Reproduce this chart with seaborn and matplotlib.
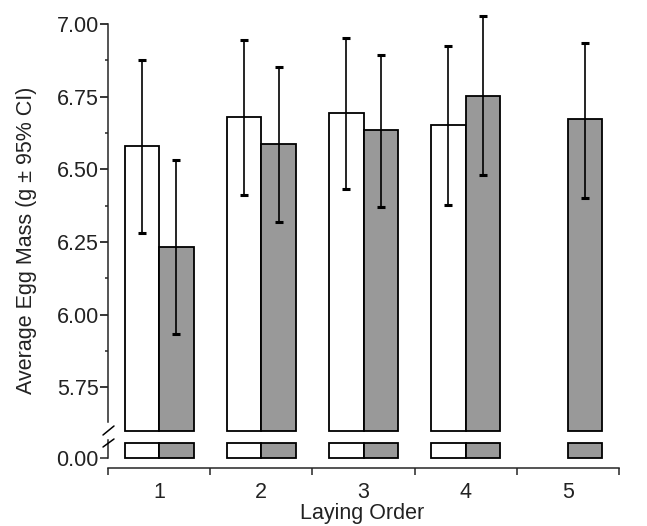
import numpy as np
import pandas as pd
import matplotlib
matplotlib.use("Agg")
import matplotlib.pyplot as plt
from matplotlib.lines import Line2D
import seaborn as sns

# data
orders = ["1", "2", "3", "4", "5"]
groups = ["A", "B"]
a_mean = [6.580, 6.681, 6.695, 6.654, np.nan]
a_low = [6.280, 6.413, 6.431, 6.379, np.nan]
a_high = [6.876, 6.945, 6.952, 6.924, np.nan]
b_mean = [6.232, 6.587, 6.634, 6.753, 6.672]
b_low = [5.934, 6.318, 6.370, 6.479, 6.403]
b_high = [6.531, 6.852, 6.893, 7.028, 6.934]

df = pd.DataFrame({
    "order": orders * 2,
    "group": ["A"] * 5 + ["B"] * 5,
    "mean": a_mean + b_mean,
    "low": a_low + b_low,
    "high": a_high + b_high,
}).dropna()

sns.set_theme(style="ticks")
plt.rcParams["font.family"] = ["Liberation Sans", "DejaVu Sans"]
plt.rcParams["font.size"] = 15.5

W, H = 647, 526
fig = plt.figure(figsize=(W / 100, H / 100), dpi=100)
ax_top = fig.add_axes([108 / W, 1 - 431 / H, (619 - 108) / W, (431 - 24) / H])
ax_bot = fig.add_axes([108 / W, 1 - 468 / H, (619 - 108) / W, (468 - 440) / H])

top_lo, top_hi = 5.6, 7.0
bot_lo, bot_hi, bot_cap = -1.0, 1.8, 1.5
pal = ["white", "#999999"]

for ax in (ax_top, ax_bot):
    sns.barplot(data=df, x="order", y="mean", hue="group", order=orders,
                hue_order=groups, palette=pal, width=0.675, errorbar=None,
                edgecolor="black", linewidth=1.3, saturation=1,
                legend=False, ax=ax)
    ax.set_xlim(-0.5, 4.5)
    ax.set_xlabel("")
    ax.set_ylabel("")
    ax.spines[["top", "right"]].set_visible(False)

# upper panel: bars start at the axis break
ax_top.set_ylim(top_lo, top_hi)
for p in ax_top.patches:
    h = p.get_height()
    p.set_y(top_lo)
    p.set_height(h - top_lo)
    p.set_clip_on(False)

# error bars from the CI values
for cont, g in zip(ax_top.containers, groups):
    sub = df[df["group"] == g].set_index("order")
    for bar in cont:
        xc = bar.get_x() + bar.get_width() / 2
        row = sub.loc[orders[int(round(xc))]]
        ax_top.errorbar(xc, row["mean"],
                        yerr=[[row["mean"] - row["low"]], [row["high"] - row["mean"]]],
                        fmt="none", ecolor="black", elinewidth=1.2,
                        capsize=2.8, capthick=2.2)
for art in ax_top.lines + ax_top.collections:
    art.set_clip_on(False)

ax_top.spines["bottom"].set_visible(False)
ax_top.spines["left"].set_bounds(5.63, 7.0)
ax_top.spines["left"].set_linewidth(1.1)
ax_top.set_xticks([])
ax_top.set_yticks([5.75, 6.0, 6.25, 6.5, 6.75, 7.0])
ax_top.set_yticklabels(["%.2f" % v for v in [5.75, 6.0, 6.25, 6.5, 6.75, 7.0]])
ax_top.set_yticks([5.875, 6.125, 6.375, 6.625, 6.875], minor=True)
ax_top.tick_params(axis="y", which="major", length=5.5, width=1.1, pad=1,
                   labelsize=15.5, color="black", labelcolor="#222222")
ax_top.tick_params(axis="y", which="minor", length=2.5, width=1.1)

# lower panel: stub of each bar
ax_bot.set_ylim(bot_lo, bot_hi)
for p in ax_bot.patches:
    p.set_height(bot_cap)
    p.set_clip_on(False)
ax_bot.spines["left"].set_bounds(0, bot_hi)
ax_bot.spines["left"].set_linewidth(1.1)
ax_bot.spines["bottom"].set_linewidth(1.1)
ax_bot.set_yticks([0])
ax_bot.set_yticklabels(["0.00"])
ax_bot.tick_params(axis="y", length=5.5, width=1.1, pad=1, labelsize=15.5,
                   labelcolor="#222222")
ax_bot.set_xticks(range(len(orders)))
ax_bot.set_xticklabels(orders)
ax_bot.set_xticks(np.arange(-0.5, len(orders)), minor=True)
ax_bot.tick_params(axis="x", which="major", length=0, pad=10, labelsize=15.5,
                   labelcolor="#222222")
ax_bot.tick_params(axis="x", which="minor", length=5, width=1.1)

# axis break marks
for y0, y1 in [(435, 426), (447, 439)]:
    fig.add_artist(Line2D([103 / W, 114 / W], [1 - y0 / H, 1 - y1 / H],
                          transform=fig.transFigure, color="black", lw=1.1))

fig.text(27 / W, 1 - 240 / H, "Average Egg Mass (g \u00b1 95% CI)", rotation=90,
         ha="center", va="center", fontsize=15.5, color="#222222")
fig.text(362 / W, 1 - 514 / H, "Laying Order", ha="center", va="center",
         fontsize=15.5, color="#222222")

fig.savefig("out.png", dpi=100)
